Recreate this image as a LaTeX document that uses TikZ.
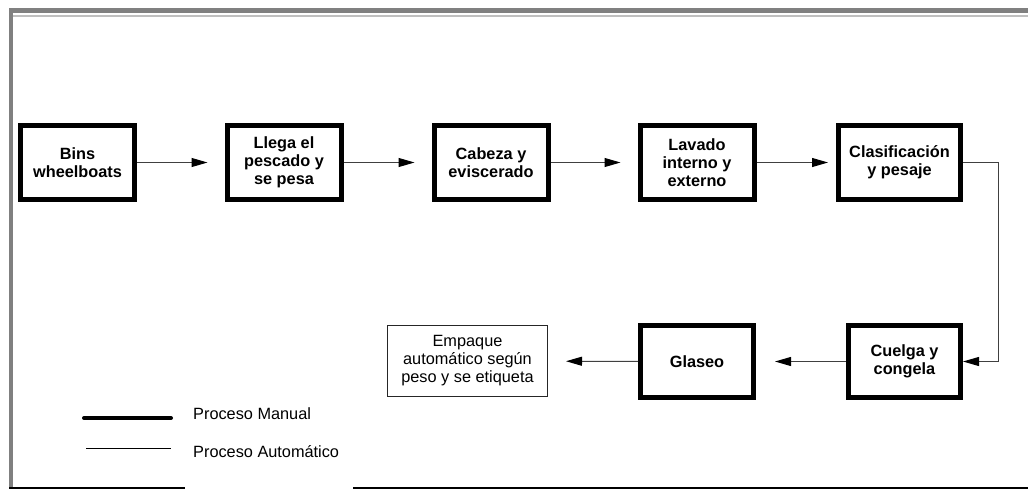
\documentclass[tikz,border=0pt]{standalone}
\usepackage{fontspec}
\setmainfont{Liberation Sans}
\usetikzlibrary{arrows.meta}
\begin{document}
\begin{tikzpicture}[x=1pt,y=-1pt,
  manual/.style={draw=black, line width=5pt, fill=white, align=center,
    minimum width=114pt, minimum height=74pt, inner sep=0pt,
    font=\bfseries\fontsize{16.3}{18}\selectfont},
  auto box/.style={draw=black!85, line width=1pt, fill=white, align=center,
    minimum width=160pt, minimum height=71pt, inner sep=0pt,
    font=\fontsize{16.3}{18}\selectfont},
  flow/.style={draw=black!75, line width=1pt,
    -{Triangle[length=16pt,width=9pt,fill=black,color=black]}},
  legtext/.style={anchor=west, inner sep=0pt, font=\fontsize{16.3}{18}\selectfont}]
  \useasboundingbox (0,0) rectangle (1028,490);
  % page frame
  \fill[black!50] (9,8) rectangle (1028,13);
  \fill[black!25] (13,15) rectangle (1028,17);
  \fill[black!50] (9,8) rectangle (13,489);
  \draw[line width=1.5pt] (9,488) -- (185,488);
  \draw[line width=1.5pt] (353,488) -- (1028,488);
  % top row
  \node[manual] (b1) at (77.5,162.5) {Bins\\wheelboats};
  \node[manual] (b2) at (284,162.5) {Llega el\\pescado y\\se pesa};
  \node[manual] (b3) at (491,162.5) {Cabeza y\\eviscerado};
  \node[manual] (b4) at (697,162.5) {Lavado\\interno y\\externo};
  \node[manual, minimum width=122pt] (b5) at (899.5,162.5) {Clasificación\\y pesaje};
  % bottom row
  \node[manual, minimum width=112pt, minimum height=72pt] (c1) at (904.5,361.5) {Cuelga y\\congela};
  \node[manual, minimum width=113pt, minimum height=72pt] (c2) at (697,361.5) {Glaseo};
  \node[auto box] (c3) at (467.5,361) {Empaque\\automático según\\peso y se etiqueta};
  % connectors
  \draw[flow, shorten >=17pt] (b1) -- (b2);
  \draw[flow, shorten >=17pt] (b2) -- (b3);
  \draw[flow, shorten >=17pt] (b3) -- (b4);
  \draw[flow, shorten >=8pt] (b4) -- (b5);
  \draw[flow] (b5.east) -- ++(35,0) |- (c1.east);
  \draw[flow, shorten >=19pt] (c1) -- (c2);
  \draw[flow, shorten >=18pt] (c2) -- (c3);
  % legend
  \draw[line width=4pt, line cap=round] (84,418) -- (171,418);
  \node[legtext] (lm) at (193,414) {Proceso Manual};
  \draw[line width=1pt] (86,448) -- (171,448);
  \node[legtext] (la) at (193,452) {Proceso Automático};
\end{tikzpicture}
\end{document}
